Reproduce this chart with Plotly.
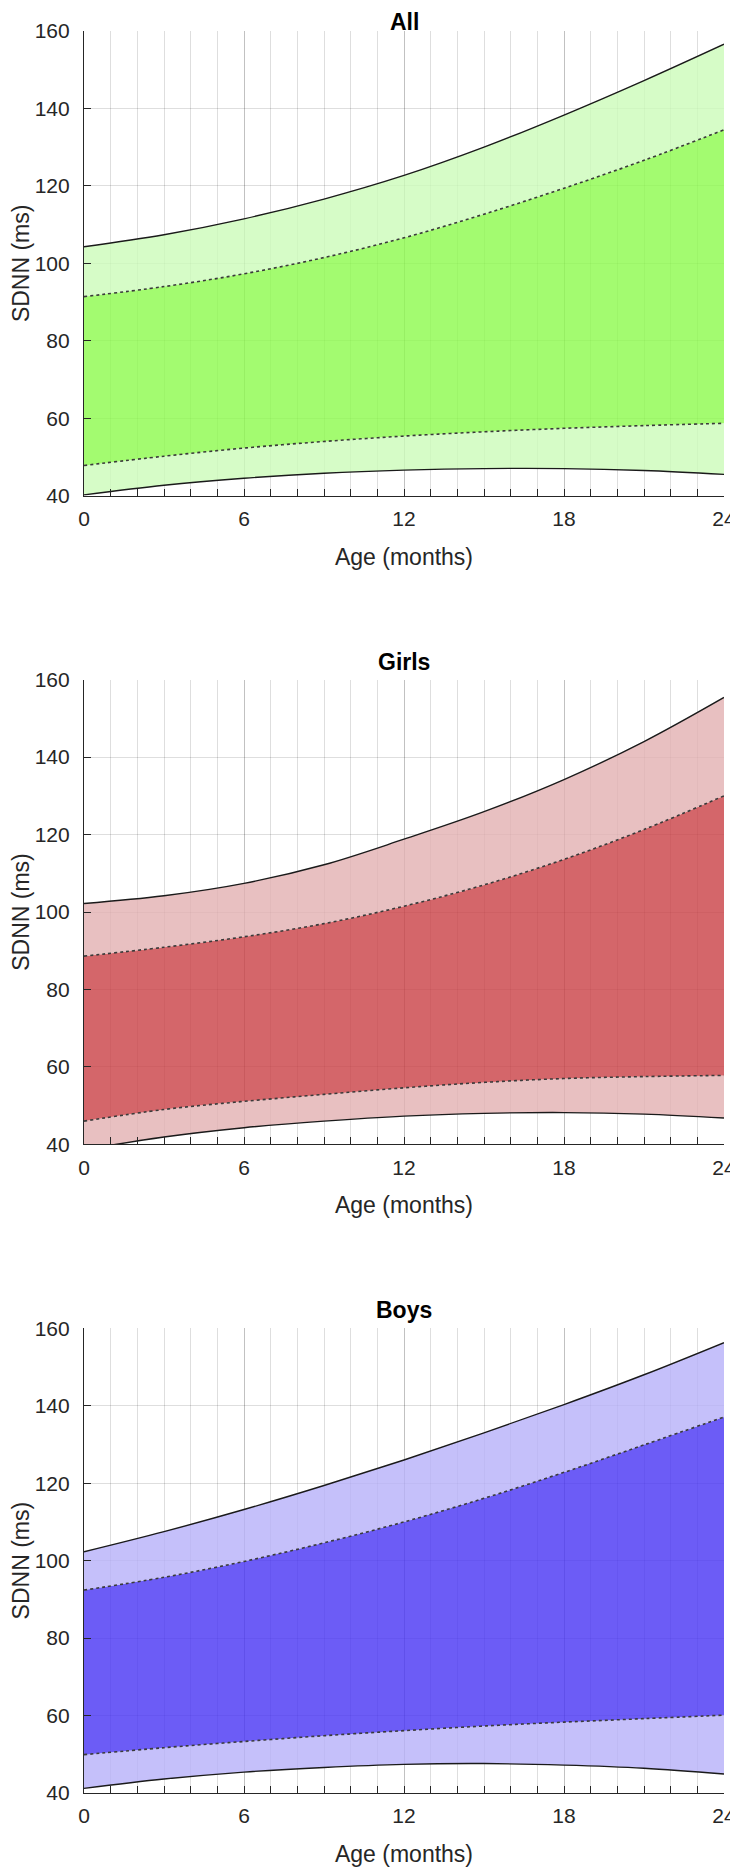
"""SDNN reference bands by age for all infants, girls and boys"""
import plotly.graph_objects as go
from plotly.subplots import make_subplots

AGE = [0, 3, 6, 9, 12, 15, 18, 21, 24]

ALL_OUTER_LO = [40.2, 42.7, 44.5, 45.8, 46.6, 47.0, 47.0, 46.5, 45.5]
ALL_INNER_LO = [47.8, 50.2, 52.3, 54.0, 55.4, 56.5, 57.4, 58.1, 58.7]
ALL_INNER_HI = [91.4, 94.0, 97.3, 101.5, 106.6, 112.7, 119.4, 126.6, 134.5]
ALL_OUTER_HI = [104.3, 107.4, 111.5, 116.6, 122.7, 130.0, 138.3, 147.2, 156.6]

GIRLS_OUTER_LO = [38.6, 41.9, 44.3, 46.0, 47.3, 48.0, 48.2, 47.8, 46.8]
GIRLS_INNER_LO = [46.0, 49.0, 51.1, 52.9, 54.6, 56.0, 57.0, 57.5, 57.8]
GIRLS_INNER_HI = [88.6, 90.9, 93.6, 97.0, 101.5, 107.0, 113.6, 121.3, 130.0]
GIRLS_OUTER_HI = [102.2, 104.2, 107.4, 112.2, 118.8, 125.9, 134.2, 144.0, 155.4]

BOYS_OUTER_LO = [41.2, 43.6, 45.4, 46.6, 47.4, 47.6, 47.2, 46.4, 44.9]
BOYS_INNER_LO = [49.9, 51.7, 53.3, 54.8, 56.1, 57.3, 58.3, 59.2, 60.1]
BOYS_INNER_HI = [92.4, 95.7, 99.8, 104.6, 110.0, 116.1, 122.8, 129.9, 137.1]
BOYS_OUTER_HI = [102.3, 107.5, 113.2, 119.4, 126.0, 133.0, 140.3, 148.0, 156.3]

TITLES = ["All", "Girls", "Boys"]
X_TICKS = [0, 6, 12, 18, 24]
Y_TICKS = [40, 60, 80, 100, 120, 140, 160]

# (light band, dark band) colours per panel
COLOURS = [
    ("rgba(204,251,185,0.8)", "rgba(140,250,76,0.8)"),
    ("rgba(226,176,178,0.8)", "rgba(201,64,69,0.8)"),
    ("rgba(182,176,249,0.8)", "rgba(71,51,244,0.8)"),
]

TEXT = "#262626"
FONT = "Liberation Sans, Arial, sans-serif"


def add_bands(fig, row, bands, colours):
    """Draw the outer and inner band for one panel"""
    outer_lo, inner_lo, inner_hi, outer_hi = bands
    light, dark = colours
    solid = dict(color="#1a1a1a", width=1.4, shape="spline")
    dotted = dict(color="#3a3a3a", width=1.6, dash="dot", shape="spline")

    fig.add_trace(go.Scatter(x=AGE, y=outer_lo, mode="lines", line=solid),
                  row=row, col=1)
    fig.add_trace(go.Scatter(x=AGE, y=inner_lo, mode="lines", line=dotted,
                             fill="tonexty", fillcolor=light), row=row, col=1)
    fig.add_trace(go.Scatter(x=AGE, y=inner_hi, mode="lines", line=dotted,
                             fill="tonexty", fillcolor=dark), row=row, col=1)
    fig.add_trace(go.Scatter(x=AGE, y=outer_hi, mode="lines", line=solid,
                             fill="tonexty", fillcolor=light), row=row, col=1)


fig = make_subplots(rows=3, cols=1, vertical_spacing=0.1044)

all_bands = [
    (ALL_OUTER_LO, ALL_INNER_LO, ALL_INNER_HI, ALL_OUTER_HI),
    (GIRLS_OUTER_LO, GIRLS_INNER_LO, GIRLS_INNER_HI, GIRLS_OUTER_HI),
    (BOYS_OUTER_LO, BOYS_INNER_LO, BOYS_INNER_HI, BOYS_OUTER_HI),
]

for i, bands in enumerate(all_bands):
    add_bands(fig, i + 1, bands, COLOURS[i])

grid = "rgba(0,0,0,0.13)"
fig.update_xaxes(range=[0, 24], tickvals=X_TICKS, ticks="inside", ticklen=7,
                 tickcolor=TEXT, showline=True, linecolor=TEXT, linewidth=1.2,
                 showgrid=True, gridcolor=grid, gridwidth=1, automargin=False,
                 minor=dict(dtick=1, ticks="inside", ticklen=7, tickcolor=TEXT,
                            showgrid=True, gridcolor=grid, gridwidth=1),
                 tickfont=dict(size=21, color=TEXT, family=FONT),
                 ticklabelstandoff=4, zeroline=False,
                 ticklabeloverflow="allow",
                 title=dict(text="Age (months)", standoff=19,
                            font=dict(size=23, color=TEXT, family=FONT)))
fig.update_yaxes(range=[40, 160], tickvals=Y_TICKS, ticks="inside", ticklen=7,
                 tickcolor=TEXT, showline=True, linecolor=TEXT, linewidth=1.2,
                 showgrid=True, gridcolor=grid, gridwidth=1, zeroline=False,
                 automargin=False,
                 tickfont=dict(size=21, color=TEXT, family=FONT),
                 ticklabelstandoff=9,
                 title=dict(text="SDNN (ms)", standoff=2,
                            font=dict(size=23, color=TEXT, family=FONT)))

for i, title in enumerate(TITLES):
    domain = fig.layout["yaxis" + ("" if i == 0 else str(i + 1))].domain
    # top title has to stay inside the page edge
    shift = 9 if i == 0 else 18
    fig.add_annotation(text="<b>" + title + "</b>", xref="paper", yref="paper",
                       x=0.5, y=domain[1], yanchor="middle", showarrow=False,
                       yshift=shift,
                       font=dict(size=23, color="#000000", family=FONT))

# the page body adds an 8px offset, so margins are set 8px short on left/top
fig.update_layout(width=738, height=1872, showlegend=False,
                  plot_bgcolor="white", paper_bgcolor="white",
                  margin=dict(l=75.5, r=22, t=23, b=87))

fig.write_html("out.html")
